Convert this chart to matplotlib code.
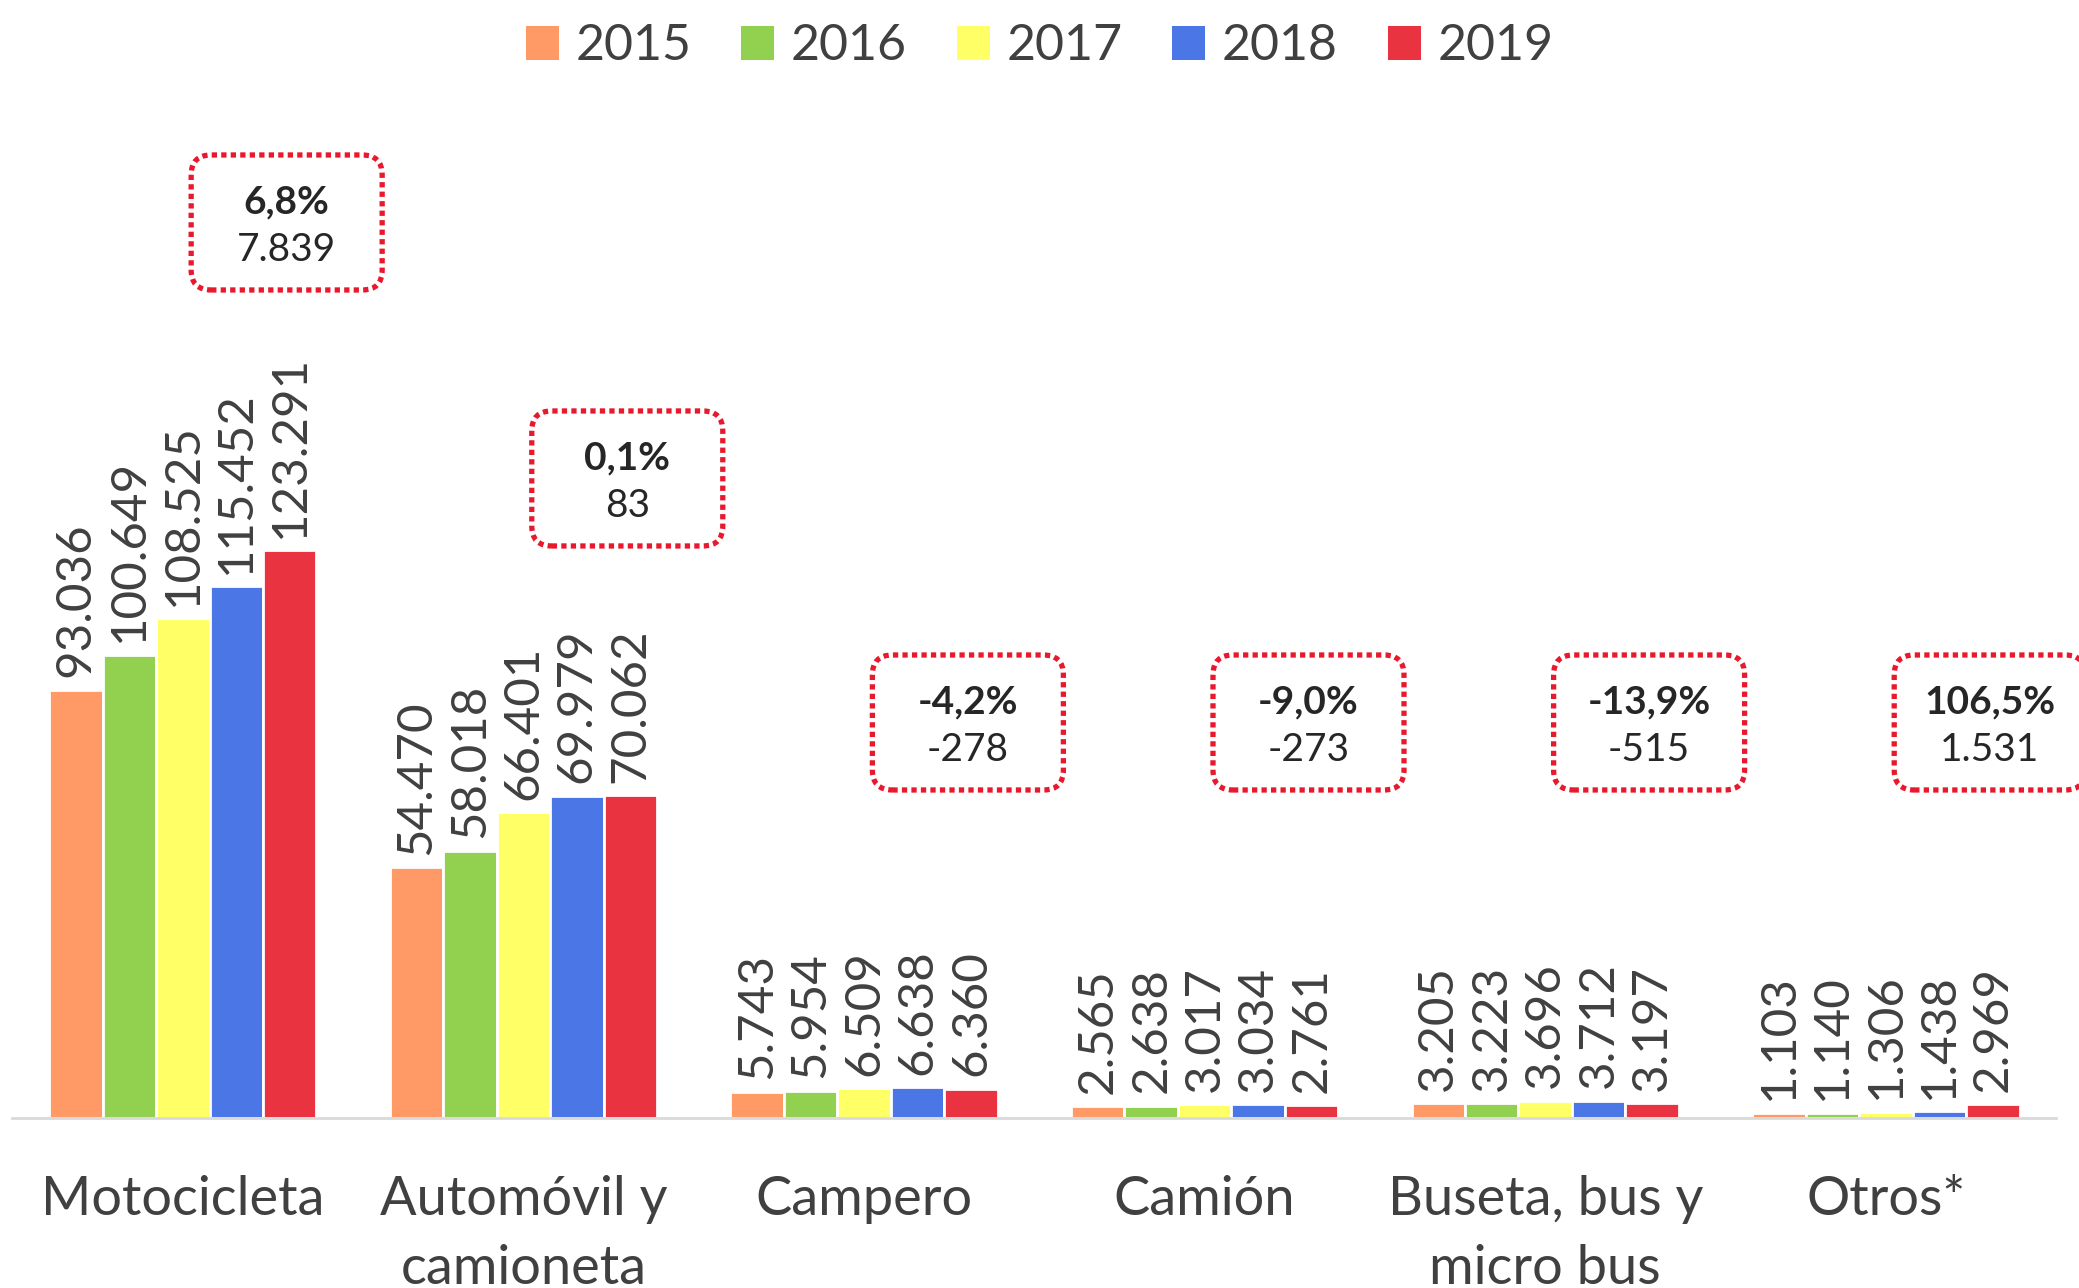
import numpy as np
import matplotlib.pyplot as plt
from matplotlib.patches import FancyBboxPatch
from matplotlib.transforms import ScaledTranslation

plt.rcParams['font.family'] = ['Lato', 'DejaVu Sans']

# vehicle registrations per class and year
categories = ['Motocicleta', 'Automóvil y\ncamioneta', 'Campero', 'Camión',
              'Buseta, bus y\nmicro bus', 'Otros*']
years = ['2015', '2016', '2017', '2018', '2019']
v2015 = [93036, 54470, 5743, 2565, 3205, 1103]
v2016 = [100649, 58018, 5954, 2638, 3223, 1140]
v2017 = [108525, 66401, 6509, 3017, 3696, 1306]
v2018 = [115452, 69979, 6638, 3034, 3712, 1438]
v2019 = [123291, 70062, 6360, 2761, 3197, 2969]

colors = ['#FF9966', '#92D050', '#FFFF66', '#4A77E5', '#EA3340']
text_col = '#404040'
box_col = '#E8192C'

# vertical centre of each change box (data units)
box_y = [194500, 138900, 85900, 85900, 85900, 85900]


def fmt_int(v):
    s = f'{abs(v):,}'.replace(',', '.')
    return ('-' if v < 0 else '') + s


def fmt_pct(p):
    return f'{p:.1f}'.replace('.', ',') + '%'


series = [v2015, v2016, v2017, v2018, v2019]
x = np.arange(len(categories))
w = 0.157

fig = plt.figure(figsize=(20.79, 12.88), dpi=100)
ax = fig.add_axes([0.006, 0.132, 0.983, 0.79])

for k, (vals, yr, c) in enumerate(zip(series, years, colors)):
    pos = x + (k - 2) * w
    bars = ax.bar(pos, vals, width=w, color=c, edgecolor='white',
                  linewidth=2, label=yr, zorder=2)
    for xb, v in zip(pos, vals):
        ax.annotate(fmt_int(v), (xb, v), xytext=(0, 9), textcoords='offset points',
                    rotation=90, ha='center', va='bottom', fontsize=35.5,
                    color=text_col)

# change 2018 -> 2019 boxes
for i in range(len(categories)):
    diff = v2019[i] - v2018[i]
    pct = diff / v2018[i] * 100
    bw, bh = 1.91, 1.35
    tr = fig.dpi_scale_trans + ScaledTranslation(x[i] + 0.305, box_y[i], ax.transData)
    box = FancyBboxPatch((-bw / 2, -bh / 2), bw, bh,
                         boxstyle='round,pad=0,rounding_size=0.2',
                         transform=tr, facecolor='white', edgecolor=box_col,
                         linewidth=3.8, linestyle=(0, (1, 0.8)), clip_on=False,
                         zorder=3)
    box.set_capstyle('butt')
    ax.add_patch(box)
    ax.annotate(fmt_pct(pct), (x[i] + 0.305, box_y[i]), xytext=(0, 15),
                textcoords='offset points', ha='center', va='center',
                fontsize=28, fontweight='bold', color='#262626', zorder=4,
                annotation_clip=False)
    ax.annotate(fmt_int(diff), (x[i] + 0.305, box_y[i]), xytext=(0, -20),
                textcoords='offset points', ha='center', va='center',
                fontsize=28, color='#262626', zorder=4, annotation_clip=False)

ax.set_xlim(-0.5, len(categories) - 0.5)
ax.set_ylim(0, 221000)
ax.set_xticks(x)
ax.set_xticklabels(categories, fontsize=39, color=text_col, linespacing=1.5)
ax.tick_params(axis='x', length=0, pad=41)
ax.set_yticks([])
for s in ['top', 'right', 'left']:
    ax.spines[s].set_visible(False)
ax.spines['bottom'].set_color('#D9D9D9')
ax.spines['bottom'].set_linewidth(2)

leg = fig.legend(loc='center', bbox_to_anchor=(0.5, 0.964), ncol=5, frameon=False,
                 fontsize=36, handlelength=0.66, handleheight=0.66,
                 handletextpad=0.33, columnspacing=1.0)
for t in leg.get_texts():
    t.set_color(text_col)
for h in leg.legend_handles:
    h.set_edgecolor('none')

fig.savefig('out.png', dpi=100)
